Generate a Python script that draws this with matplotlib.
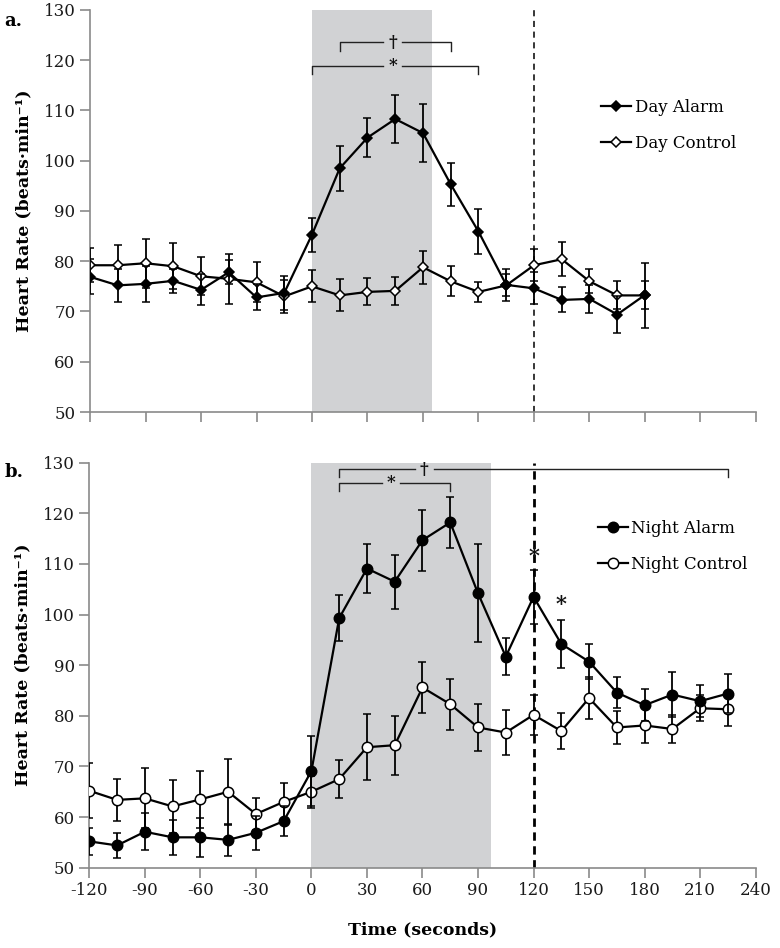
import matplotlib
matplotlib.use("Agg")
import matplotlib.pyplot as plt
from matplotlib.lines import Line2D

plt.rcParams["font.family"] = ["DejaVu Serif", "DejaVu Sans"]
plt.rcParams["axes.unicode_minus"] = False

# ---- panel a: day
day_t = [-120, -105, -90, -75, -60, -45, -30, -15, 0, 15, 30, 45, 60, 75, 90,
         105, 120, 135, 150, 165, 180]
day_alarm = [76.9, 75.2, 75.5, 76.1, 74.3, 77.8, 72.8, 73.7, 85.3, 98.5, 104.6,
             108.3, 105.5, 95.3, 85.9, 75.3, 74.6, 72.3, 72.5, 69.4, 73.3]
day_alarm_se = [3.5, 3.3, 3.6, 2.4, 3.1, 2.4, 2.6, 3.4, 3.4, 4.5, 3.9,
                4.8, 5.8, 4.3, 4.4, 3.2, 3.2, 2.5, 2.8, 3.6, 2.8]
day_control = [79.2, 79.2, 79.6, 79.0, 77.0, 76.5, 75.8, 73.0, 75.0, 73.2, 73.9,
               74.1, 78.8, 76.0, 73.9, 75.2, 79.2, 80.4, 76.0, 73.2, 73.2]
day_control_se = [3.4, 4.1, 4.9, 4.6, 3.8, 5.0, 4.0, 3.3, 3.2, 3.2, 2.7,
                  2.8, 3.3, 3.0, 2.0, 2.2, 3.2, 3.4, 2.4, 2.8, 6.4]

# ---- panel b: night
night_t = [-120, -105, -90, -75, -60, -45, -30, -15, 0, 15, 30, 45, 60, 75, 90,
           105, 120, 135, 150, 165, 180, 195, 210, 225]
night_alarm = [55.2, 54.4, 57.1, 56.0, 56.0, 55.5, 56.9, 59.2, 69.1, 99.3, 109.1,
               106.5, 114.7, 118.2, 104.2, 91.7, 103.5, 94.2, 90.7, 84.6, 82.1,
               84.2, 82.9, 84.4]
night_alarm_se = [2.6, 2.4, 3.7, 3.5, 3.9, 3.2, 3.4, 2.9, 7.0, 4.5, 4.9,
                  5.3, 6.0, 5.0, 9.7, 3.7, 5.3, 4.7, 3.5, 3.1, 3.2,
                  4.5, 3.2, 3.8]
night_control = [65.2, 63.4, 63.7, 62.1, 63.5, 65.0, 60.6, 63.0, 65.0, 67.5, 73.8,
                 74.2, 85.6, 82.3, 77.7, 76.7, 80.2, 77.0, 83.5, 77.7, 78.1,
                 77.4, 81.5, 81.3]
night_control_se = [5.4, 4.1, 5.9, 5.2, 5.7, 6.5, 3.1, 3.7, 3.2, 3.7, 6.5,
                    5.8, 5.0, 5.0, 4.7, 4.5, 4.0, 3.5, 4.2, 3.2, 3.5,
                    2.8, 2.6, 3.3]

# significance brackets: (x_start, x_end, y, label, label_x)
day_brackets = [(15, 75, 123.6, "\u2020", 43.5), (0, 90, 118.9, "*", 43.5)]
night_brackets = [(15, 225, 128.7, "\u2020", 61.0), (15, 75, 126.0, "*", 43.0)]
night_stars = [(120, 111.6), (135, 102.0)]

SHADE = "#d1d2d4"
SPINE = "#8a8a8a"


def style_axes(ax, show_xlabels):
    ax.set_xlim(-120, 240)
    ax.set_ylim(50, 130)
    ax.set_xticks(range(-120, 241, 30))
    ax.set_yticks(range(50, 131, 10))
    for side in ("top", "right"):
        ax.spines[side].set_visible(False)
    for side in ("left", "bottom"):
        ax.spines[side].set_color(SPINE)
        ax.spines[side].set_linewidth(1.2)
    ax.tick_params(direction="out", length=7, width=1.2, color=SPINE,
                   labelsize=12, labelcolor="#1a1a1a")
    if not show_xlabels:
        ax.set_xticklabels([])
    ax.set_ylabel("Heart Rate (beats\u00b7min\u207b\u00b9)", fontsize=12.5,
                  fontweight="bold", labelpad=8)


def draw_brackets(ax, brackets, tick):
    for x0, x1, y, label, lx in brackets:
        gap = 5.0
        ax.plot([x0, x0, lx - gap], [y - tick, y, y], color="#222222", lw=1.0)
        ax.plot([lx + gap, x1, x1], [y, y, y - tick], color="#222222", lw=1.0)
        ax.text(lx, y, label, ha="center", va="center", fontsize=12,
                fontweight="bold", color="#111111")


def series(ax, t, y, se, marker, filled, ms):
    ax.errorbar(t, y, yerr=se, fmt="-" + marker, color="black", lw=1.6,
                elinewidth=1.3, capsize=3.2, capthick=1.3, ms=ms,
                markerfacecolor="black" if filled else "white",
                markeredgecolor="black", markeredgewidth=1.1,
                zorder=4 if filled else 3)


def handle(marker, filled, ms):
    return Line2D([], [], color="black", lw=1.6, marker=marker, ms=ms,
                  markerfacecolor="black" if filled else "white",
                  markeredgecolor="black", markeredgewidth=1.1)


fig = plt.figure(figsize=(7.8, 9.48), dpi=100)

# panel a
ax_a = fig.add_axes([0.1154, 0.5654, 0.8538, 0.4241])
ax_a.axvspan(0, 65, color=SHADE, zorder=0, lw=0)
ax_a.axvline(120, color="black", lw=1.1, ls=(0, (4, 3)), zorder=1)
series(ax_a, day_t, day_alarm, day_alarm_se, "D", True, 5.5)
series(ax_a, day_t, day_control, day_control_se, "D", False, 5.5)
draw_brackets(ax_a, day_brackets, 1.7)
style_axes(ax_a, False)
ax_a.legend([handle("D", True, 5.5), handle("D", False, 5.5)],
            ["Day Alarm", "Day Control"],
            loc="upper left", bbox_to_anchor=(0.758, 0.796), frameon=False,
            fontsize=12, handlelength=1.8, handletextpad=0.2, labelspacing=1.15,
            borderaxespad=0)

# panel b
ax_b = fig.add_axes([0.1145, 0.0847, 0.8543, 0.4272])
ax_b.axvspan(0, 97, color=SHADE, zorder=0, lw=0)
ax_b.axvline(120, color="black", lw=2.0, ls=(0, (3, 2)), zorder=1)
series(ax_b, night_t, night_alarm, night_alarm_se, "o", True, 7.5)
series(ax_b, night_t, night_control, night_control_se, "o", False, 7.5)
draw_brackets(ax_b, night_brackets, 1.6)
for sx, sy in night_stars:
    ax_b.text(sx, sy, "*", ha="center", va="center", fontsize=15,
              fontweight="bold", color="#111111")
style_axes(ax_b, True)
ax_b.set_xlabel("Time (seconds)", fontsize=12.5, fontweight="bold", labelpad=16)
ax_b.legend([handle("o", True, 7.5), handle("o", False, 7.5)],
            ["Night Alarm", "Night Control"],
            loc="upper left", bbox_to_anchor=(0.753, 0.875), frameon=False,
            fontsize=12, handlelength=1.8, handletextpad=0.2, labelspacing=1.15,
            borderaxespad=0)

fig.text(0.006, 0.987, "a.", fontsize=13, fontweight="bold", va="top")
fig.text(0.006, 0.512, "b.", fontsize=13, fontweight="bold", va="top")

fig.savefig("out.png", dpi=100)
